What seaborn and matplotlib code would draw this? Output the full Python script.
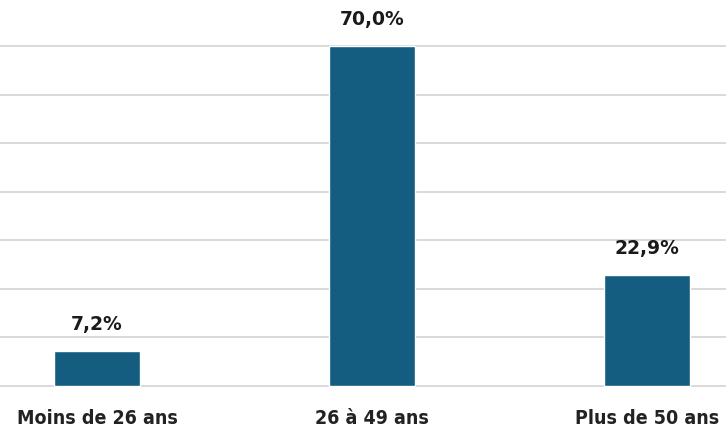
import matplotlib.pyplot as plt
import pandas as pd
import seaborn as sns

categories = ["Moins de 26 ans", "26 à 49 ans", "Plus de 50 ans"]
values = [7.2, 70.0, 22.9]
value_labels = ["7,2%", "70,0%", "22,9%"]

df = pd.DataFrame({"age": categories, "share": values})

sns.set_style("white")
plt.rcParams["font.family"] = ["DejaVu Sans"]

fig = plt.figure(figsize=(7.26, 4.39), dpi=100)
# plot area is cropped on both sides in the reference
ymin, ymax = -0.6, 71
px_per_unit = 340 / 70
ax = fig.add_axes([-40.5 / 726, (52 + ymin * px_per_unit) / 439,
                   825 / 726, px_per_unit * (ymax - ymin) / 439])

sns.barplot(data=df, x="age", y="share", color="#155D80", width=0.31,
            saturation=1, ax=ax)

ax.set_xlim(-0.5, 2.5)
ax.set_ylim(ymin, ymax)
ax.set_yticks(range(0, 71, 10))
ax.set_yticklabels([])
ax.yaxis.grid(True, color="#d9d9d9", linewidth=1.4)
ax.set_axisbelow(True)
ax.tick_params(axis="both", length=0)
ax.tick_params(axis="x", pad=13.5)
for lab in ax.get_xticklabels():
    lab.set_fontsize(14)
    lab.set_fontweight("bold")
    lab.set_fontstretch("condensed")
    lab.set_color("#222222")
ax.set_xlabel("")
ax.set_ylabel("")
sns.despine(ax=ax, left=True, bottom=True, top=True, right=True)

ax.bar_label(ax.containers[0], labels=value_labels, padding=13,
             fontsize=13.5, fontweight="bold", color="#1a1a1a", clip_on=False)

fig.savefig("out.png", dpi=100)
